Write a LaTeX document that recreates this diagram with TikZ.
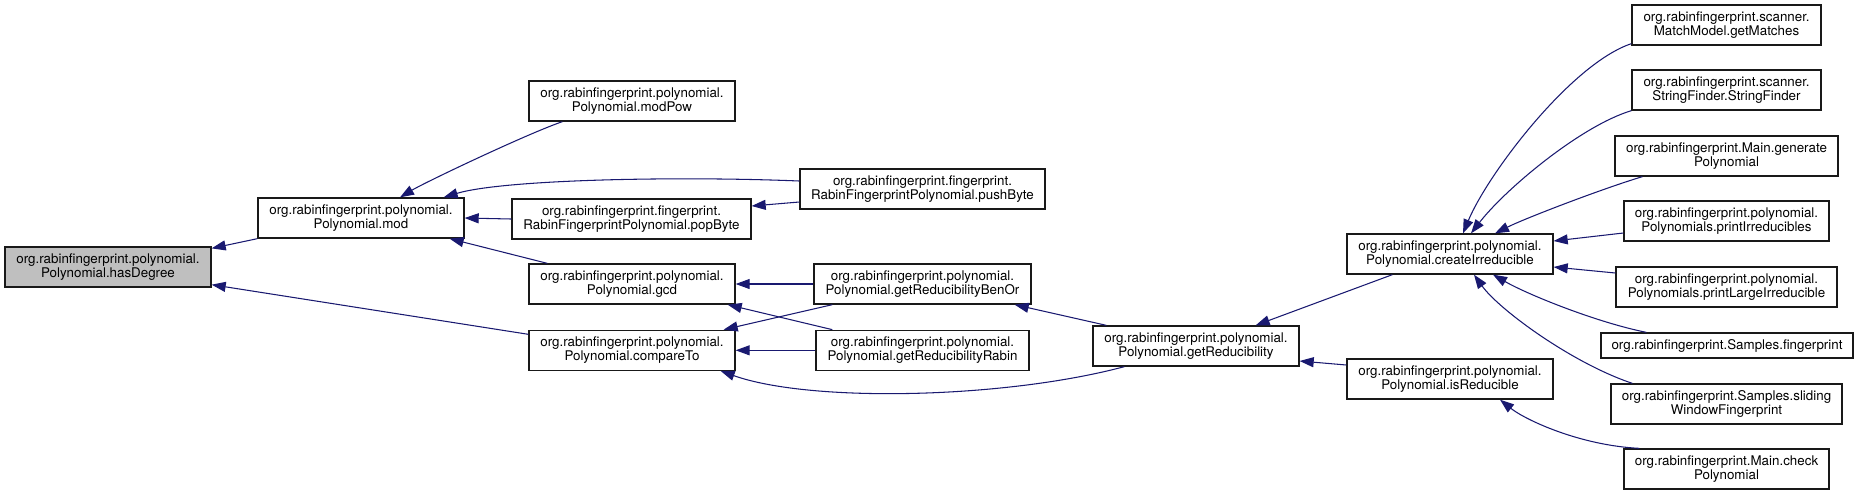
\documentclass[tikz,border=0pt]{standalone}
\usepackage{fontspec}
\setmainfont{TeX Gyre Heros}
\usetikzlibrary{arrows.meta,calc,positioning}
\definecolor{edgeblue}{HTML}{191970}
\definecolor{focusgray}{HTML}{BFBFBF}
\tikzset{
    fn/.style={
        draw=black!90, rectangle, line width=0.75pt, fill=white,
        minimum height=0.8cm, inner sep=0pt, align=center,
        font=\fontsize{7.6}{8.2}\selectfont
    }
}
\begin{document}
\begin{tikzpicture}[
        x=0.02cm, y=-0.02cm,
        selfn/.style={fn, fill=focusgray},
        calls/.style={
            draw=edgeblue, line width=0.6pt,
            {Triangle[length=8pt,width=5.7pt]}-
        }
      ]
  \useasboundingbox (0,0) rectangle (1859,495);

  \node[selfn, minimum width=4.12cm] (hasDegree) at (108,267) {org.rabinfingerprint.polynomial.\\Polynomial.hasDegree};
  \node[fn, minimum width=4.12cm] (mod) at (361,218) {org.rabinfingerprint.polynomial.\\Polynomial.mod};

  \node[fn, minimum width=4.12cm] (modPow) at (632,101) {org.rabinfingerprint.polynomial.\\Polynomial.modPow};
  \node[fn, minimum width=4.78cm] (popByte) at (631.5,219) {org.rabinfingerprint.fingerprint.\\RabinFingerprintPolynomial.popByte};
  \node[fn, minimum width=4.12cm] (gcd) at (632,284) {org.rabinfingerprint.polynomial.\\Polynomial.gcd};
  \node[fn, minimum width=4.12cm] (compareTo) [below=0.5cm of gcd] {org.rabinfingerprint.polynomial.\\Polynomial.compareTo};

  \node[fn, minimum width=4.9cm] (pushByte) at (922.5,189) {org.rabinfingerprint.fingerprint.\\RabinFingerprintPolynomial.pushByte};
  \node[fn, minimum width=4.34cm] (benOr) at (922.5,284) {org.rabinfingerprint.polynomial.\\Polynomial.getReducibilityBenOr};
  \node[fn, minimum width=4.26cm] (rabin) [below=0.5cm of benOr] {org.rabinfingerprint.polynomial.\\Polynomial.getReducibilityRabin};

  \node[fn, minimum width=4.12cm] (getRed) at (1196,346) {org.rabinfingerprint.polynomial.\\Polynomial.getReducibility};
  \node[fn, minimum width=4.12cm] (createIrr) at (1450,254) {org.rabinfingerprint.polynomial.\\Polynomial.createIrreducible};
  \node[fn, minimum width=4.12cm] (isRed) at (1450,379) {org.rabinfingerprint.polynomial.\\Polynomial.isReducible};

  \node[fn, minimum width=3.78cm] (getMatches) at (1726.5,25) {org.rabinfingerprint.scanner.\\MatchModel.getMatches};
  \node[fn, minimum width=3.78cm] (strFinder) at (1726.5,90) {org.rabinfingerprint.scanner.\\StringFinder.StringFinder};
  \node[fn, minimum width=4.46cm] (genPoly) at (1726.5,156) {org.rabinfingerprint.Main.generate\\Polynomial};
  \node[fn, minimum width=4.1cm] (printIrr) at (1726.5,221) {org.rabinfingerprint.polynomial.\\Polynomials.printIrreducibles};
  \node[fn, minimum width=4.42cm] (printLarge) at (1726.5,287) {org.rabinfingerprint.polynomial.\\Polynomials.printLargeIrreducible};
  \node[fn, minimum width=5.04cm, minimum height=0.5cm] (fingerprint) at (1727,345.5) {org.rabinfingerprint.Samples.fingerprint};
  \node[fn, minimum width=4.62cm] (sliding) at (1726.5,404) {org.rabinfingerprint.Samples.sliding\\WindowFingerprint};
  \node[fn, minimum width=4.1cm] (checkPoly) at (1726.5,469) {org.rabinfingerprint.Main.check\\Polynomial};

  \draw[calls] ($(hasDegree.north east)+(0,2)$) -- (mod.south west);
  \draw[calls] ($(hasDegree.south east)+(0,-3)$) -- ($(compareTo.west)+(0,-16)$);

  \draw[calls] ($(mod.north)+(39,0)$) .. controls +(25,-15) and +(-35,12) .. ($(modPow.south west)+(34,0)$);
  \draw[calls] ($(mod.north east)+(-21,0)$) .. controls +(60,-18) and +(-120,-5) .. ($(pushByte.west)+(0,-8)$);
  \draw[calls] (mod.east) -- (popByte.west);
  \draw[calls] ($(mod.south east)+(-15,0)$) -- ($(gcd.north west)+(19,0)$);

  \draw[calls] ($(popByte.east)+(0,-13)$) -- ($(pushByte.west)+(0,13)$);
  \draw[calls] (gcd.east) -- (benOr.west);
  \draw[calls] ($(gcd.south east)+(-8,0)$) -- ($(rabin.north west)+(17,0)$);
  \draw[calls] ($(compareTo.north east)+(-12,0)$) -- ($(benOr.south west)+(19,0)$);
  \draw[calls] (compareTo.east) -- (rabin.west);
  \draw[calls] ($(compareTo.south east)+(-15,0)$) .. controls +(90,32) and +(-120,32) .. ($(getRed.south west)+(32,0)$);

  \draw[calls] ($(benOr.south east)+(-17,0)$) -- ($(getRed.north west)+(14,0)$);
  \draw[calls] ($(getRed.north east)+(-44,0)$) -- ($(createIrr.south west)+(46,0)$);
  \draw[calls] ($(getRed.east)+(0,15)$) -- ($(isRed.west)+(0,-14)$);

  \draw[calls] ($(createIrr.north)+(13,0)$) .. controls +(25,-60) and +(-60,20) .. ($(getMatches.south west)+(0,-2)$);
  \draw[calls] ($(createIrr.north)+(21,0)$) .. controls +(35,-45) and +(-50,15) .. (strFinder.south west);
  \draw[calls] ($(createIrr.north)+(45,0)$) .. controls +(30,-15) and +(-40,12) .. ($(genPoly.south west)+(28,0)$);
  \draw[calls] ($(createIrr.east)+(0,-13)$) -- ($(printIrr.west)+(0,12)$);
  \draw[calls] ($(createIrr.east)+(0,13)$) -- ($(printLarge.west)+(0,-14)$);
  \draw[calls] ($(createIrr.south)+(43,0)$) .. controls +(35,20) and +(-50,-10) .. ($(fingerprint.north west)+(46,0)$);
  \draw[calls] ($(createIrr.south)+(24,0)$) .. controls +(25,35) and +(-60,-20) .. ($(sliding.north west)+(22,0)$);
  \draw[calls] ($(isRed.south)+(50,0)$) .. controls +(25,20) and +(-60,-3) .. ($(checkPoly.north west)+(16,0)$);

\end{tikzpicture}
\end{document}
